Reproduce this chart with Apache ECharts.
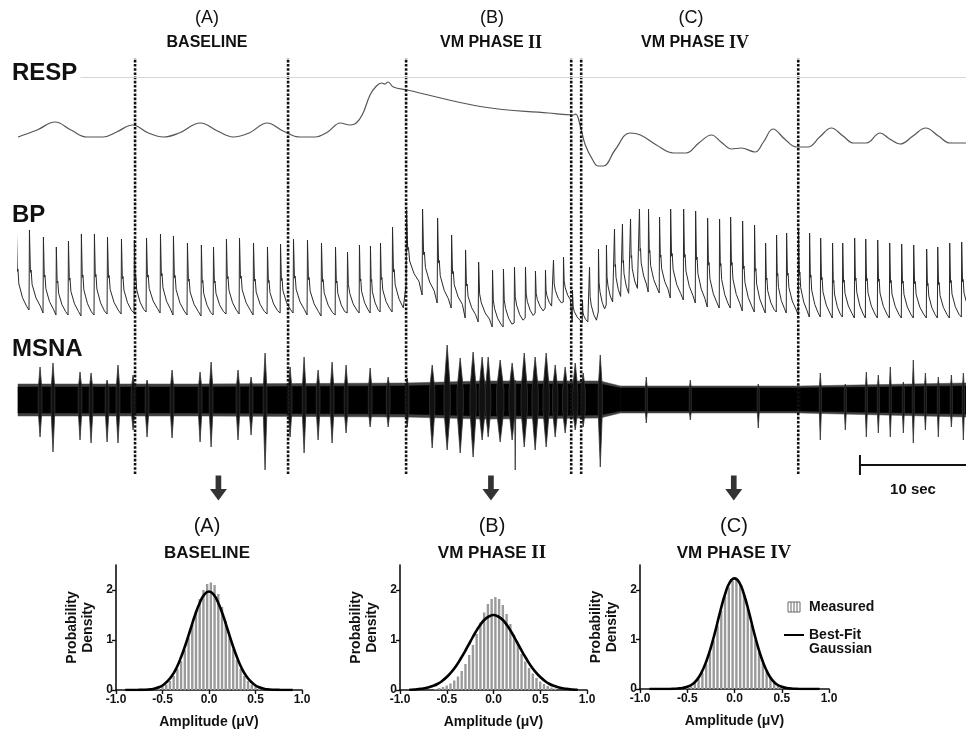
<!DOCTYPE html>
<html>
<head>
<meta charset="utf-8">
<title>RESP / BP / MSNA during Valsalva</title>
<script src="https://cdn.jsdelivr.net/npm/echarts@6/dist/echarts.min.js"></script>
<style>
  html, body { margin: 0; padding: 0; background: #fff; }
  #main { width: 966px; height: 731px; }
</style>
</head>
<body>
<div id="main"></div>
<script>
// time axis of the raw traces, seconds
const traceDuration = 89.4

// respiration trace (time s, level)
const respTime = [0, 1.8, 3.5, 5.0, 6.5, 8.0, 9.3, 10.8, 12.3, 13.7, 15.2, 17.2, 18.8, 20.3, 21.8, 23.5, 25.0, 26.6, 28.0, 29.2,
  30.4, 31.3, 31.9, 32.5, 33.2, 33.8, 34.3, 34.6, 34.9, 35.4, 36.7, 43.9, 50.0, 52.4, 52.6, 53.0, 53.5, 54.2, 54.7, 55.2,
  56.3, 57.7, 58.7, 60.2, 61.8, 63.0, 64.2, 65.4, 66.3, 67.3, 68.2, 69.5, 70.3, 71.2, 72.3, 73.4, 74.5, 75.6, 76.7, 77.8,
  78.8, 80.0, 81.3, 82.2, 83.2, 84.4, 85.6, 86.8, 87.9, 89.4]
const respValue = [33, 40, 48, 40, 33, 33, 38, 45, 37, 33, 37, 47, 39, 33, 37, 47, 39, 33, 33, 38,
  47, 45, 47, 56, 75, 84, 87, 86, 88, 83, 80, 63, 57, 55, 56, 45, 25, 10, 4, 4,
  20, 37, 35, 25, 17, 17, 27, 35, 28, 21, 22, 18, 28, 41, 31, 23, 23, 33, 42, 34,
  27, 27, 37, 31, 26, 34, 42, 34, 27, 27]
const respReferenceLevel = 93

// blood pressure, one entry per heart beat
const bpBeatTime = [-0.19, 1.04, 2.36, 3.58, 4.72, 5.94, 7.17, 8.40, 9.72, 10.94, 12.08, 13.40, 14.62, 15.94, 17.26, 18.40,
  19.62, 20.85, 22.17, 23.49, 24.72, 25.94, 27.26, 28.58, 29.91, 31.04, 32.17, 33.21, 34.15, 35.28, 36.60, 38.11,
  39.53, 40.85, 42.17, 43.40, 44.72, 45.75, 46.79, 47.83, 48.77, 49.72, 50.47, 51.42, 52.26, 53.21, 53.87, 54.72,
  55.47, 56.23, 56.98, 57.74, 58.58, 59.43, 60.47, 61.51, 62.74, 63.87, 65.00, 66.13, 67.17, 68.30, 69.43, 70.47,
  71.51, 72.45, 73.58, 74.62, 75.66, 76.79, 77.74, 78.87, 79.91, 81.04, 82.17, 83.30, 84.43, 85.66, 86.70, 87.83, 88.96]
const bpSystolic = [112, 110, 103, 93, 99, 106, 106, 103, 101, 100, 102, 106, 104, 97, 95, 93,
  101, 102, 97, 93, 96, 101, 100, 97, 93, 88, 95, 94, 97, 113, 130, 131,
  122, 105, 90, 78, 70, 71, 73, 73, 69, 70, 80, 83, 50, 40, 73, 91,
  95, 111, 116, 121, 131, 131, 123, 131, 131, 129, 122, 121, 123, 119, 115, 97,
  105, 107, 111, 107, 102, 97, 97, 102, 101, 100, 97, 96, 95, 91, 93, 97, 98]
const bpDiastolic = [30, 30, 27, 25, 25, 24, 25, 26, 26, 27, 28, 27, 25, 25, 24, 25,
  26, 26, 25, 26, 27, 27, 25, 24, 25, 27, 27, 27, 28, 28, 55, 45,
  37, 32, 22, 18, 13, 13, 17, 22, 27, 32, 35, 38, 18, 17, 17, 28,
  35, 40, 43, 48, 52, 48, 47, 42, 40, 37, 33, 32, 32, 29, 28, 27,
  28, 27, 25, 23, 23, 22, 23, 22, 22, 22, 22, 22, 22, 22, 22, 22, 23]
// shape of one pressure pulse: fraction of the beat period, fraction of the pulse height
const pulsePhase = [0, 0.03, 0.10, 0.15, 0.22, 0.50, 0.80]
const pulseLevel = [0, 1, 0.47, 0.50, 0.32, 0.15, 0.05]

// MSNA background noise: solid core and ragged fringe
const msnaBandTime = [0, 17.2, 36.6, 43.9, 54.9, 56.8, 73.8, 89.4]
const msnaBandHigh = [13, 13, 14, 16, 16, 12, 12, 14]
const msnaBandLow = [-13, -13, -14, -16, -15, -11, -11, -14]
const msnaFringeHigh = [16, 16, 17, 19, 19, 14, 14, 17]
const msnaFringeLow = [-16, -16, -17, -19, -18, -13, -13, -17]

// MSNA bursts
const msnaBurstTime = [2.08, 3.30, 5.85, 6.89, 8.40, 9.43, 10.85, 12.17, 14.53, 17.17, 18.21, 20.75, 21.98, 23.30, 25.66,
  26.98, 28.30, 29.62, 30.94, 33.21, 34.91, 36.70,
  39.06, 40.47, 41.70, 42.92, 43.77, 44.34, 45.47, 46.60, 46.89, 47.74, 48.77, 49.81, 50.66, 51.60, 52.55, 53.30, 54.91,
  59.25, 63.40, 69.81, 75.66, 78.02, 80.00, 81.13, 82.26, 83.49, 84.43, 85.57, 86.79, 88.02, 89.15]
const msnaBurstUp = [33, 37, 28, 27, 20, 35, 25, 20, 30, 28, 38, 30, 23, 47, 33, 43, 30, 38, 35, 32, 23, 22,
  35, 55, 42, 48, 43, 43, 40, 37, 20, 47, 43, 47, 35, 33, 37, 27, 45,
  23, 20, 16, 27, 16, 28, 25, 33, 18, 40, 27, 23, 25, 27]
const msnaBurstDown = [-37, -52, -40, -43, -42, -43, -30, -37, -38, -42, -47, -40, -35, -70, -37, -53, -40, -43, -33, -27, -27, -27,
  -48, -50, -53, -57, -40, -37, -42, -40, -70, -47, -50, -47, -37, -33, -30, -27, -67,
  -23, -20, -28, -40, -30, -37, -33, -37, -33, -43, -30, -37, -27, -40]
const msnaBurstWidth = [0.35, 0.35, 0.35, 0.35, 0.35, 0.35, 0.35, 0.35, 0.35, 0.35, 0.35, 0.35, 0.35, 0.35, 0.35,
  0.35, 0.35, 0.35, 0.35, 0.35, 0.35, 0.35,
  0.5, 0.6, 0.6, 0.6, 0.6, 0.5, 0.7, 0.6, 0.1, 0.6, 0.6, 0.6, 0.5, 0.5, 0.5, 0.4, 0.4,
  0.2, 0.2, 0.2, 0.2, 0.2, 0.2, 0.2, 0.2, 0.2, 0.2, 0.2, 0.2, 0.2, 0.2]

// event markers, arrows, scale bar (seconds)
const markerTime = [11.04, 25.47, 36.6, 52.17, 53.11, 73.58]
const arrowTime = [18.9, 44.6, 67.5]
const scaleBarStart = 79.4
const scaleBarLength = 10

// amplitude histograms (uV, probability density)
const histAX = [-0.58, -0.54, -0.50, -0.46, -0.42, -0.38, -0.34, -0.30, -0.26, -0.22, -0.18, -0.14, -0.10, -0.06, -0.02,
  0.02, 0.06, 0.10, 0.14, 0.18, 0.22, 0.26, 0.30, 0.34, 0.38, 0.42, 0.46, 0.50, 0.54, 0.58]
const histAY = [0.02, 0.04, 0.07, 0.11, 0.18, 0.28, 0.42, 0.58, 0.80, 1.05, 1.32, 1.58, 1.82, 2.00, 2.12,
  2.15, 2.10, 1.92, 1.66, 1.38, 1.08, 0.82, 0.60, 0.42, 0.28, 0.18, 0.11, 0.07, 0.04, 0.02]
const histBX = [-0.62, -0.58, -0.54, -0.50, -0.46, -0.42, -0.38, -0.34, -0.30, -0.26, -0.22, -0.18, -0.14, -0.10, -0.06, -0.02,
  0.02, 0.06, 0.10, 0.14, 0.18, 0.22, 0.26, 0.30, 0.34, 0.38, 0.42, 0.46, 0.50, 0.54, 0.58, 0.62, 0.66]
const histBY = [0.02, 0.04, 0.06, 0.09, 0.13, 0.19, 0.27, 0.38, 0.52, 0.70, 0.90, 1.12, 1.35, 1.55, 1.72, 1.82,
  1.86, 1.82, 1.70, 1.52, 1.32, 1.10, 0.90, 0.72, 0.57, 0.44, 0.33, 0.24, 0.17, 0.12, 0.08, 0.05, 0.03]
const histCX = [-0.50, -0.46, -0.42, -0.38, -0.34, -0.30, -0.26, -0.22, -0.18, -0.14, -0.10, -0.06, -0.02,
  0.02, 0.06, 0.10, 0.14, 0.18, 0.22, 0.26, 0.30, 0.34, 0.38, 0.42, 0.46, 0.50]
const histCY = [0.04, 0.07, 0.12, 0.20, 0.33, 0.50, 0.72, 0.98, 1.28, 1.58, 1.86, 2.05, 2.18,
  2.20, 2.10, 1.90, 1.62, 1.30, 1.00, 0.74, 0.52, 0.35, 0.22, 0.13, 0.07, 0.04]

// best-fit gaussian curves
const fitX = [-0.9, -0.85, -0.8, -0.75, -0.7, -0.65, -0.6, -0.55, -0.5, -0.45, -0.4, -0.35, -0.3, -0.25, -0.2, -0.15, -0.1, -0.05,
  0, 0.05, 0.1, 0.15, 0.2, 0.25, 0.3, 0.35, 0.4, 0.45, 0.5, 0.55, 0.6, 0.65, 0.7, 0.75, 0.8, 0.85, 0.9]
const fitA = [0, 0, 0, 0.002, 0.005, 0.01, 0.02, 0.05, 0.09, 0.17, 0.28, 0.44, 0.66, 0.92, 1.21, 1.50, 1.74, 1.91,
  1.97, 1.91, 1.74, 1.50, 1.21, 0.92, 0.66, 0.44, 0.28, 0.17, 0.09, 0.05, 0.02, 0.01, 0.005, 0.002, 0, 0, 0]
const fitB = [0.004, 0.01, 0.02, 0.03, 0.05, 0.08, 0.12, 0.18, 0.26, 0.36, 0.48, 0.63, 0.79, 0.96, 1.13, 1.28, 1.40, 1.47,
  1.50, 1.47, 1.40, 1.28, 1.13, 0.96, 0.79, 0.63, 0.48, 0.36, 0.26, 0.18, 0.12, 0.08, 0.05, 0.03, 0.02, 0.01, 0.004]
const fitC = [0, 0, 0, 0, 0.001, 0.004, 0.01, 0.02, 0.045, 0.09, 0.18, 0.33, 0.55, 0.84, 1.19, 1.57, 1.91, 2.15,
  2.23, 2.15, 1.91, 1.57, 1.19, 0.84, 0.55, 0.33, 0.18, 0.09, 0.045, 0.02, 0.01, 0.004, 0.001, 0, 0, 0, 0]

const FONT = '"Liberation Sans", Arial, sans-serif'
const SERIF = '"Liberation Serif", "Times New Roman", serif'

let chart = echarts.init(document.getElementById('main'), null, { renderer: 'canvas' })

function zip (xs, ys) {
  return xs.map((x, i) => [x, ys[i]])
}

// build the pressure trace beat by beat
function buildBp () {
  let pts = []
  for (let i = 0; i < bpBeatTime.length; i++) {
    let t0 = bpBeatTime[i]
    let t1 = i + 1 < bpBeatTime.length ? bpBeatTime[i + 1] : t0 + 1.15
    let amp = bpSystolic[i] - bpDiastolic[i]
    for (let k = 0; k < pulsePhase.length; k++) {
      pts.push([t0 + pulsePhase[k] * (t1 - t0), bpDiastolic[i] + pulseLevel[k] * amp])
    }
  }
  return pts
}

function label (x, y, text, size, bold, align) {
  return {
    type: 'text',
    x: x,
    y: y,
    z: 100,
    style: {
      text: text,
      fontFamily: FONT,
      fontSize: size,
      fontWeight: bold ? 'bold' : 'normal',
      fill: '#111',
      align: align || 'center',
      verticalAlign: 'middle',
      rich: {
        r: { fontFamily: SERIF, fontWeight: 'bold', fontSize: size + 2, fill: '#111' }
      }
    }
  }
}

function traceX (i) {
  return { type: 'value', gridIndex: i, min: 0, max: traceDuration, show: false }
}

function histX (i) {
  return {
    type: 'value', gridIndex: i, min: -1, max: 1, interval: 0.5,
    name: 'Amplitude (\u03bcV)', nameLocation: 'middle', nameGap: 25,
    nameTextStyle: { fontFamily: FONT, fontWeight: 'bold', fontSize: 14, color: '#111' },
    axisLine: { onZero: false, lineStyle: { color: '#111', width: 1.6 } },
    axisTick: { length: 4, lineStyle: { color: '#111', width: 1.4 } },
    axisLabel: { fontFamily: FONT, fontWeight: 'bold', fontSize: 12, color: '#111', margin: 4,
      formatter: v => v.toFixed(1) },
    splitLine: { show: false }
  }
}

function histY (i) {
  return {
    type: 'value', gridIndex: i, min: 0, max: 2.5,
    name: 'Probability\nDensity', nameLocation: 'middle', nameGap: 20, nameRotate: 90,
    nameTextStyle: { fontFamily: FONT, fontWeight: 'bold', fontSize: 14, color: '#111', lineHeight: 16 },
    axisLine: { show: true, onZero: false, lineStyle: { color: '#111', width: 1.6 } },
    axisTick: { show: true, length: 4, customValues: [0, 1, 2], lineStyle: { color: '#111', width: 1.4 } },
    axisLabel: { fontFamily: FONT, fontWeight: 'bold', fontSize: 12, color: '#111', margin: 3,
      customValues: [0, 1, 2] },
    splitLine: { show: false }
  }
}

function histSeries (idx, xs, ys, fit) {
  return [{
    name: 'Measured',
    type: 'bar',
    xAxisIndex: idx,
    yAxisIndex: idx,
    barWidth: 2.4,
    itemStyle: { color: '#9a9a9a' },
    data: zip(xs, ys)
  }, {
    name: 'Best-Fit Gaussian',
    type: 'line',
    xAxisIndex: idx,
    yAxisIndex: idx,
    smooth: true,
    symbol: 'none',
    z: 5,
    lineStyle: { color: '#000', width: 2.6 },
    data: zip(fitX, fit)
  }]
}

function bandSeries (hi, lo, color) {
  return {
    type: 'custom',
    xAxisIndex: 2,
    yAxisIndex: 2,
    data: msnaBandTime.map((t, i) => [t, hi[i], lo[i]]),
    renderItem (params, api) {
      let i = params.dataIndex
      if (i >= msnaBandTime.length - 1) return null
      let pts = [
        api.coord([msnaBandTime[i], hi[i]]),
        api.coord([msnaBandTime[i + 1], hi[i + 1]]),
        api.coord([msnaBandTime[i + 1], lo[i + 1]]),
        api.coord([msnaBandTime[i], lo[i]])
      ]
      return { type: 'polygon', shape: { points: pts }, style: { fill: color, stroke: color, lineWidth: 0.5 } }
    }
  }
}

let series = [{
  type: 'line',
  xAxisIndex: 0,
  yAxisIndex: 0,
  smooth: 0.4,
  symbol: 'none',
  lineStyle: { color: '#555', width: 1.2 },
  data: zip(respTime, respValue),
  markLine: {
    silent: true,
    symbol: 'none',
    label: { show: false },
    lineStyle: { color: '#d6d6d6', width: 1, type: 'solid' },
    data: [[{ coord: [5.9, respReferenceLevel] }, { coord: [traceDuration, respReferenceLevel] }]]
  }
}, {
  type: 'line',
  xAxisIndex: 1,
  yAxisIndex: 1,
  symbol: 'none',
  lineStyle: { color: '#2a2a2a', width: 1 },
  data: buildBp()
},
bandSeries(msnaFringeHigh, msnaFringeLow, '#404040'),
bandSeries(msnaBandHigh, msnaBandLow, '#000'),
{
  // bursts
  type: 'custom',
  xAxisIndex: 2,
  yAxisIndex: 2,
  data: msnaBurstTime.map((t, i) => [t, msnaBurstUp[i], msnaBurstDown[i], msnaBurstWidth[i]]),
  renderItem (params, api) {
    let t = api.value(0)
    let up = api.value(1)
    let down = api.value(2)
    let w = api.value(3) / 2
    let pts = [
      api.coord([t - w, 10]), api.coord([t, up]), api.coord([t + w, 10]),
      api.coord([t + w, -10]), api.coord([t, down]), api.coord([t - w, -10])
    ]
    return { type: 'polygon', shape: { points: pts }, style: { fill: '#111', stroke: '#333', lineWidth: 0.8 } }
  }
}]

markerTime.forEach(t => {
  series.push({
    type: 'line',
    xAxisIndex: 3,
    yAxisIndex: 3,
    symbol: 'none',
    silent: true,
    lineStyle: { color: '#111', width: 2.6, type: [2.6, 1.6] },
    data: [[t, 0], [t, 1]]
  })
})

// scale bar
series.push({
  type: 'line', xAxisIndex: 4, yAxisIndex: 4, symbol: 'none', silent: true,
  lineStyle: { color: '#111', width: 2 },
  data: [[scaleBarStart, 15], [scaleBarStart + scaleBarLength, 15]]
}, {
  type: 'line', xAxisIndex: 4, yAxisIndex: 4, symbol: 'none', silent: true,
  lineStyle: { color: '#111', width: 2 },
  data: [[scaleBarStart, 5], [scaleBarStart, 25]]
}, {
  type: 'scatter', xAxisIndex: 4, yAxisIndex: 4, silent: true,
  symbol: 'path://M6,0 H12 V14 H18 L9,26 L0,14 H6 Z',
  symbolSize: [17, 25],
  itemStyle: { color: '#000' },
  data: arrowTime.map(t => [t, 38])
})

series = series.concat(
  histSeries(5, histAX, histAY, fitA),
  histSeries(6, histBX, histBY, fitB),
  histSeries(7, histCX, histCY, fitC)
)

let option = {
  backgroundColor: '#fff',
  animation: false,
  grid: [
    { left: 18, width: 948, top: 50, height: 120 },
    { left: 18, width: 948, top: 200, height: 140 },
    { left: 18, width: 948, top: 330, height: 150 },
    { left: 18, width: 948, top: 58, height: 416 },
    { left: 18, width: 948, top: 450, height: 60 },
    { left: 116, width: 186, top: 565, height: 125 },
    { left: 400, width: 187, top: 565, height: 125 },
    { left: 640, width: 189, top: 565, height: 124 }
  ],
  xAxis: [traceX(0), traceX(1), traceX(2), traceX(3), traceX(4), histX(5), histX(6), histX(7)],
  yAxis: [
    { type: 'value', gridIndex: 0, min: 0, max: 120, show: false },
    { type: 'value', gridIndex: 1, min: 0, max: 140, show: false },
    { type: 'value', gridIndex: 2, min: -80, max: 70, show: false },
    { type: 'value', gridIndex: 3, min: 0, max: 1, show: false },
    { type: 'value', gridIndex: 4, min: 0, max: 60, inverse: true, show: false },
    histY(5), histY(6), histY(7)
  ],
  legend: {
    orient: 'vertical',
    left: 779,
    top: 595,
    padding: 5,
    itemWidth: 20,
    itemHeight: 10,
    itemGap: 0,
    selectedMode: false,
    textStyle: { fontFamily: FONT, fontWeight: 'bold', fontSize: 14, color: '#111', lineHeight: 14 },
    // blank first line keeps the line icon level with "Best-Fit"
    formatter: name => name === 'Best-Fit Gaussian' ? '\nBest-Fit\nGaussian' : name,
    data: [
      { name: 'Measured', icon: 'path://M0,0H12V10H0ZM3,0V10M6,0V10M9,0V10',
        itemStyle: { color: '#fff', borderColor: '#666', borderWidth: 1 } },
      { name: 'Best-Fit Gaussian', icon: 'path://M0,4H20V6H0Z', itemStyle: { color: '#000' } }
    ]
  },
  graphic: [
    label(207, 18, '(A)', 18, false),
    label(207, 43, 'BASELINE', 16, true),
    label(492, 18, '(B)', 18, false),
    label(491, 43, 'VM PHASE {r|II}', 16, true),
    label(691, 18, '(C)', 18, false),
    label(695, 43, 'VM PHASE {r|IV}', 16, true),
    label(12, 73, 'RESP', 24, true, 'left'),
    label(12, 215, 'BP', 24, true, 'left'),
    label(12, 349, 'MSNA', 24, true, 'left'),
    label(913, 490, '10 sec', 15, true),
    label(207, 526, '(A)', 20, false),
    label(207, 553, 'BASELINE', 17, true),
    label(492, 526, '(B)', 20, false),
    label(492, 553, 'VM PHASE {r|II}', 17, true),
    label(734, 526, '(C)', 20, false),
    label(734, 553, 'VM PHASE {r|IV}', 17, true)
  ],
  series: series
}

chart.setOption(option)
</script>
</body>
</html>
